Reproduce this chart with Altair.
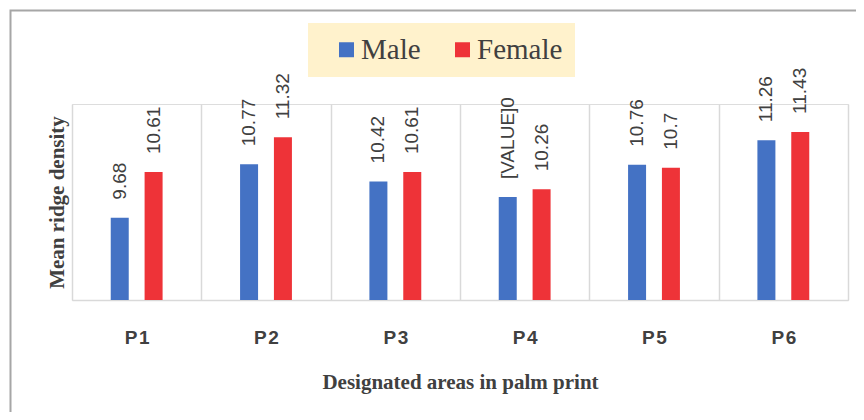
import altair as alt
import pandas as pd

areas = ["P1", "P2", "P3", "P4", "P5", "P6"]
male = [9.68, 10.77, 10.42, 10.10, 10.76, 11.26]
female = [10.61, 11.32, 10.61, 10.26, 10.70, 11.43]
male_labels = ["9.68", "10.77", "10.42", "[VALUE]0", "10.76", "11.26"]
female_labels = ["10.61", "11.32", "10.61", "10.26", "10.7", "11.43"]
series = ["Male", "Female"]
colors = ["#4472C4", "#EE3338"]

rows = []
for a, m, ml in zip(areas, male, male_labels):
    rows.append({"area": a, "sex": "Male", "value": m, "label": ml})
for a, f, fl in zip(areas, female, female_labels):
    rows.append({"area": a, "sex": "Female", "value": f, "label": fl})
df = pd.DataFrame(rows)

x_enc = alt.X(
    "area:N",
    sort=areas,
    scale=alt.Scale(paddingInner=0, paddingOuter=0),
    axis=alt.Axis(
        title="Designated areas in palm print",
        titleFont="Liberation Serif",
        titleFontSize=21,
        titleFontWeight="bold",
        titleColor="#404040",
        titleY=88,
        titleBaseline="alphabetic",
        labelExpr="replace(datum.label, 'P', 'P\u200a')",
        labelFont="Liberation Sans",
        labelFontSize=19,
        labelFontWeight="bold",
        labelColor="#404040",
        labelPadding=28,
        labelAngle=0,
        ticks=False,
        tickSize=0,
        tickBand="extent",
        grid=True,
        gridColor="#D9D9D9",
        gridWidth=1.5,
        domainColor="#D9D9D9",
        domainWidth=1.5,
    ),
)
xoff = alt.XOffset("sex:N", sort=series, scale=alt.Scale(paddingInner=0, paddingOuter=0.91))
y_enc = alt.Y(
    "value:Q",
    scale=alt.Scale(domain=[8, 12], zero=False, nice=False),
    axis=alt.Axis(
        title="Mean ridge density",
        titleFont="Liberation Serif",
        titleFontSize=21,
        titleFontWeight="bold",
        titleColor="#404040",
        titleAngle=270,
        titleX=-8.5,
        titleY=98,
        titleAlign="center",
        titleBaseline="alphabetic",
        labels=False,
        ticks=False,
        domain=False,
        grid=False,
    ),
)

bars = alt.Chart(df).mark_bar(width=18).encode(
    x=x_enc,
    xOffset=xoff,
    y=y_enc,
    y2=alt.datum(8),
    color=alt.Color(
        "sex:N",
        sort=series,
        scale=alt.Scale(domain=series, range=colors),
        legend=alt.Legend(
            title=" ",
            titleOrient="left",
            titleFontSize=1,
            titlePadding=12,
            orient="none",
            legendX=236,
            legendY=-81,
            direction="horizontal",
            fillColor="#FFF2CC",
            padding=12,
            symbolType="square",
            symbolSize=225,
            symbolStrokeWidth=0,
            labelFont="Liberation Serif",
            labelFontSize=29,
            labelColor="#404040",
            labelOffset=0,
            columnPadding=27,
        ),
    ),
)

labels = alt.Chart(df).mark_text(
    angle=270, align="left", baseline="middle", dx=18,
    font="Liberation Sans", fontSize=19, color="#404040",
).encode(
    x=alt.X("area:N", sort=areas),
    xOffset=alt.XOffset("sex:N", sort=series),
    y=alt.Y("value:Q"),
    text="label:N",
)

frame_df = pd.DataFrame({"frame": [0]})
frame = alt.Chart(frame_df).mark_rect(
    filled=False, stroke="#A6A6A6", strokeWidth=2
).encode(
    x=alt.value(-61.5), x2=alt.value(900), y=alt.value(-93.5), y2=alt.value(500)
)

chart = alt.layer(frame, bars, labels).properties(
    width=776,
    height=196,
    autosize=alt.AutoSizeParams(type="none"),
    padding={"left": 64, "top": 96, "right": 8, "bottom": 112},
).configure_view(stroke=None).configure(background="white")

chart.save("out.html", embed_options={"renderer": "svg", "actions": False})
